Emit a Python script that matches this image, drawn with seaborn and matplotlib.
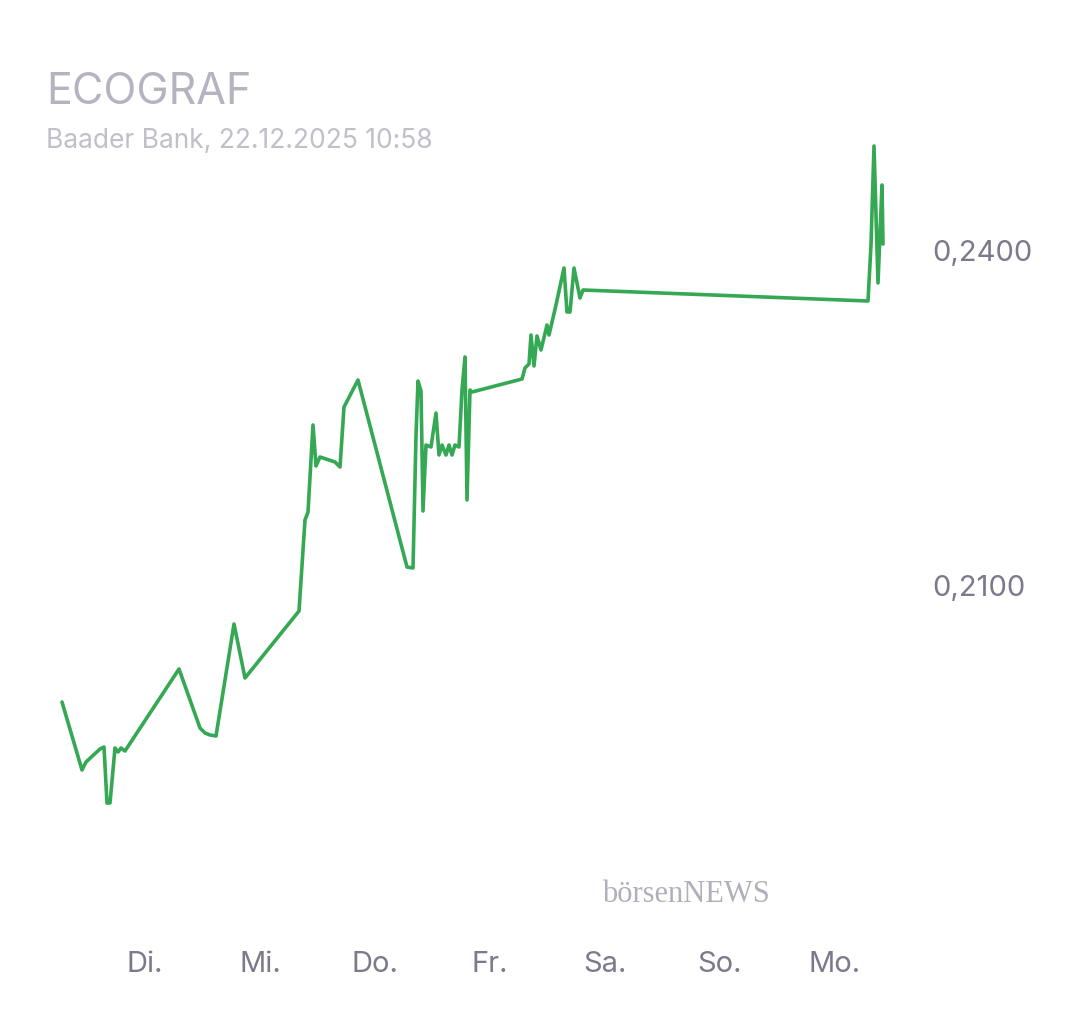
import matplotlib
matplotlib.use("Agg")
import matplotlib.pyplot as plt
import seaborn as sns
import pandas as pd

# values in pixel coordinates, converted below
px_x = [62, 82, 86, 100, 104, 107, 110, 115, 118, 121, 125, 179, 200, 205, 210, 216, 234, 245,
        299, 305, 308, 313, 316, 320, 335, 340, 344, 358, 407, 413, 416, 418, 421, 423, 426, 431,
        436, 439, 442, 446, 449, 452, 455, 459, 462, 465, 467, 470, 472, 522, 525, 529, 531, 534,
        537, 541, 547, 549, 556, 564, 567, 570, 574, 580, 583, 868, 871, 874, 878, 882, 883]
px_y = [702, 770, 762, 749, 747, 803, 803, 748, 752, 748, 751, 669, 728, 733, 735, 736, 624, 678,
        611, 520, 512, 425, 466, 457, 462, 467, 407, 380, 567, 568, 436, 381, 391, 511, 445, 447,
        413, 455, 445, 455, 445, 455, 445, 447, 390, 357, 500, 390, 392, 379, 368, 364, 335, 366,
        336, 350, 325, 335, 305, 268, 312, 312, 268, 298, 290, 301, 245, 146, 283, 185, 244]
day_labels = ["Di.", "Mi.", "Do.", "Fr.", "Sa.", "So.", "Mo."]


def px_to_val(y):
    return 0.24 - (y - 250) * 0.03 / 335


day_pos = [(x - 145) / 115 for x in px_x]
price = [px_to_val(y) for y in px_y]
df = pd.DataFrame({"day": day_pos, "price": price})

sns.set_style("white")
plt.rcParams["font.family"] = ["Inter", "DejaVu Sans"]

fig = plt.figure(figsize=(10.8, 10.13), dpi=100)
W, H = 1080, 1013
ax = fig.add_axes([0, 1 - 930 / H, 918 / W, (930 - 120) / H])
sns.lineplot(data=df, x="day", y="price", sort=False, ax=ax, color="#34a853", linewidth=2.6)

ax.set_xlim(-145 / 115, (918 - 145) / 115)
ax.set_ylim(px_to_val(930), px_to_val(120))
for s in ax.spines.values():
    s.set_visible(False)
ax.yaxis.tick_right()
ax.set_yticks([0.21, 0.24])
ax.set_yticklabels(["0,2100", "0,2400"], fontsize=21, color="#7b7a8c")
ax.set_xticks(range(7))
ax.set_xticklabels(day_labels, fontsize=21, color="#7b7a8c")
ax.tick_params(length=0, axis="y", pad=10)
ax.tick_params(length=0, axis="x", pad=15)
ax.set_xlabel("")
ax.set_ylabel("")

fig.text(46 / W, 1 - 104 / H, "ECOGRAF", fontsize=31, color="#b5b3c0")
fig.text(46 / W, 1 - 148 / H, "Baader Bank, 22.12.2025 10:58", fontsize=19, color="#c0bfca")
fig.text(602 / W, 1 - 902 / H, "börsenNEWS", fontsize=22, color="#b0afbc", family="Liberation Serif")

fig.savefig("out.png", dpi=100)
